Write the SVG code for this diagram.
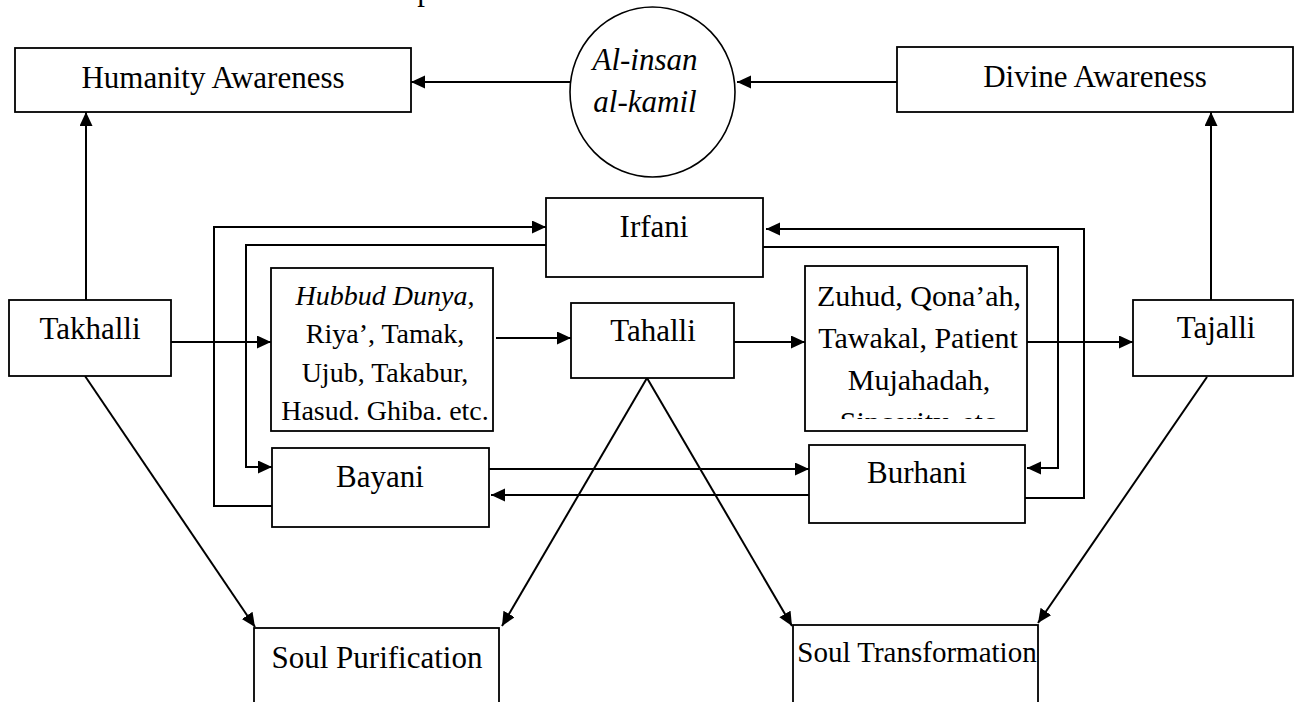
<svg xmlns="http://www.w3.org/2000/svg" width="1295" height="702" viewBox="0 0 1295 702">
<style>
text{font-family:"Liberation Serif","Times New Roman",serif;fill:#000;text-anchor:middle}
.lbl{font-size:31px}
.sm{font-size:28px}
.md{font-size:30px}
.it{font-style:italic}
.box{fill:#fff;stroke:#000;stroke-width:1.8}
.ell{fill:#fff;stroke:#000;stroke-width:1.6}
.con{fill:none;stroke:#000;stroke-width:2}
.arr{marker-end:url(#ah)}
</style>
<defs>
<marker id="ah" markerUnits="userSpaceOnUse" markerWidth="15" markerHeight="14" refX="14" refY="6.5" orient="auto">
<path d="M0,0 L14,6.5 L0,13 z" fill="#000"/>
</marker>
<clipPath id="clipZ"><rect x="806" y="267" width="220" height="152"/></clipPath>
</defs>

<g id="caption-fragment">
<text x="425" y="-0.5" style="font-size:31px">p</text>
</g>

<g id="connectors">
<line class="con arr" x1="570" y1="82" x2="411" y2="82"/>
<line class="con arr" x1="897" y1="82" x2="737" y2="82"/>
<line class="con arr" x1="86" y1="300" x2="86" y2="112"/>
<line class="con arr" x1="1211" y1="300" x2="1211" y2="112"/>
<line class="con arr" x1="171" y1="342" x2="271" y2="342"/>
<line class="con arr" x1="496" y1="338" x2="571" y2="338"/>
<line class="con arr" x1="734" y1="342" x2="805" y2="342"/>
<line class="con arr" x1="1027" y1="342" x2="1133" y2="342"/>
<polyline class="con arr" points="275,506 214,506 214,227 546,227"/>
<polyline class="con arr" points="546,245 246,245 246,467 272,467"/>
<polyline class="con arr" points="1025,498 1084,498 1084,229 766,229"/>
<polyline class="con arr" points="763,247 1058,247 1058,468 1027,468"/>
<line class="con arr" x1="489" y1="469" x2="809" y2="469"/>
<line class="con arr" x1="812" y1="495" x2="491" y2="495"/>
<line class="con arr" x1="85" y1="376" x2="255" y2="627"/>
<line class="con arr" x1="647" y1="378" x2="502" y2="626"/>
<line class="con arr" x1="647" y1="378" x2="792" y2="626"/>
<line class="con arr" x1="1207" y1="377" x2="1038" y2="623"/>
</g>

<g id="humanity-awareness">
<rect class="box" x="15" y="48" width="396" height="64"/>
<text class="lbl" x="213" y="88">Humanity Awareness</text>
</g>

<g id="al-insan-al-kamil">
<ellipse class="ell" cx="652.5" cy="92" rx="82.5" ry="85"/>
<text class="lbl it" x="645" y="70">Al-insan</text>
<text class="lbl it" x="645" y="112">al-kamil</text>
</g>

<g id="divine-awareness">
<rect class="box" x="897" y="47" width="396" height="65"/>
<text class="lbl" x="1095" y="87">Divine Awareness</text>
</g>

<g id="irfani">
<rect class="box" x="546" y="198" width="217" height="79"/>
<text class="lbl" x="654" y="237">Irfani</text>
</g>

<g id="takhalli">
<rect class="box" x="9" y="300" width="162" height="76"/>
<text class="lbl" x="90" y="339">Takhalli</text>
</g>

<g id="vices">
<rect class="box" x="271" y="268" width="222" height="163"/>
<text class="sm" x="385" y="305"><tspan class="it">Hubbud Dunya</tspan>,</text>
<text class="sm" x="385" y="343">Riya’, Tamak,</text>
<text class="sm" x="385" y="382">Ujub, Takabur,</text>
<text class="sm" x="385" y="420">Hasud. Ghiba. etc.</text>
</g>

<g id="tahalli">
<rect class="box" x="571" y="303" width="163" height="75"/>
<text class="lbl" x="653" y="341">Tahalli</text>
</g>

<g id="virtues">
<rect class="box" x="805" y="266" width="222" height="165"/>
<g clip-path="url(#clipZ)">
<text class="md" x="919" y="306">Zuhud, Qona’ah,</text>
<text class="md" x="918" y="348">Tawakal, Patient</text>
<text class="md" x="919" y="390">Mujahadah,</text>
<text class="md" x="918" y="432">Sincerity, etc</text>
</g>
</g>

<g id="tajalli">
<rect class="box" x="1133" y="300" width="160" height="76"/>
<text class="lbl" x="1216" y="338">Tajalli</text>
</g>

<g id="bayani">
<rect class="box" x="272" y="448" width="217" height="79"/>
<text class="lbl" x="380" y="487">Bayani</text>
</g>

<g id="burhani">
<rect class="box" x="809" y="445" width="216" height="78"/>
<text class="lbl" x="917" y="483">Burhani</text>
</g>

<g id="soul-purification">
<rect class="box" x="254" y="628" width="245" height="90"/>
<text class="lbl" x="377" y="668">Soul Purification</text>
</g>

<g id="soul-transformation">
<rect class="box" x="793" y="625" width="245" height="90"/>
<text x="917" y="662" style="font-size:29px">Soul Transformation</text>
</g>
</svg>
